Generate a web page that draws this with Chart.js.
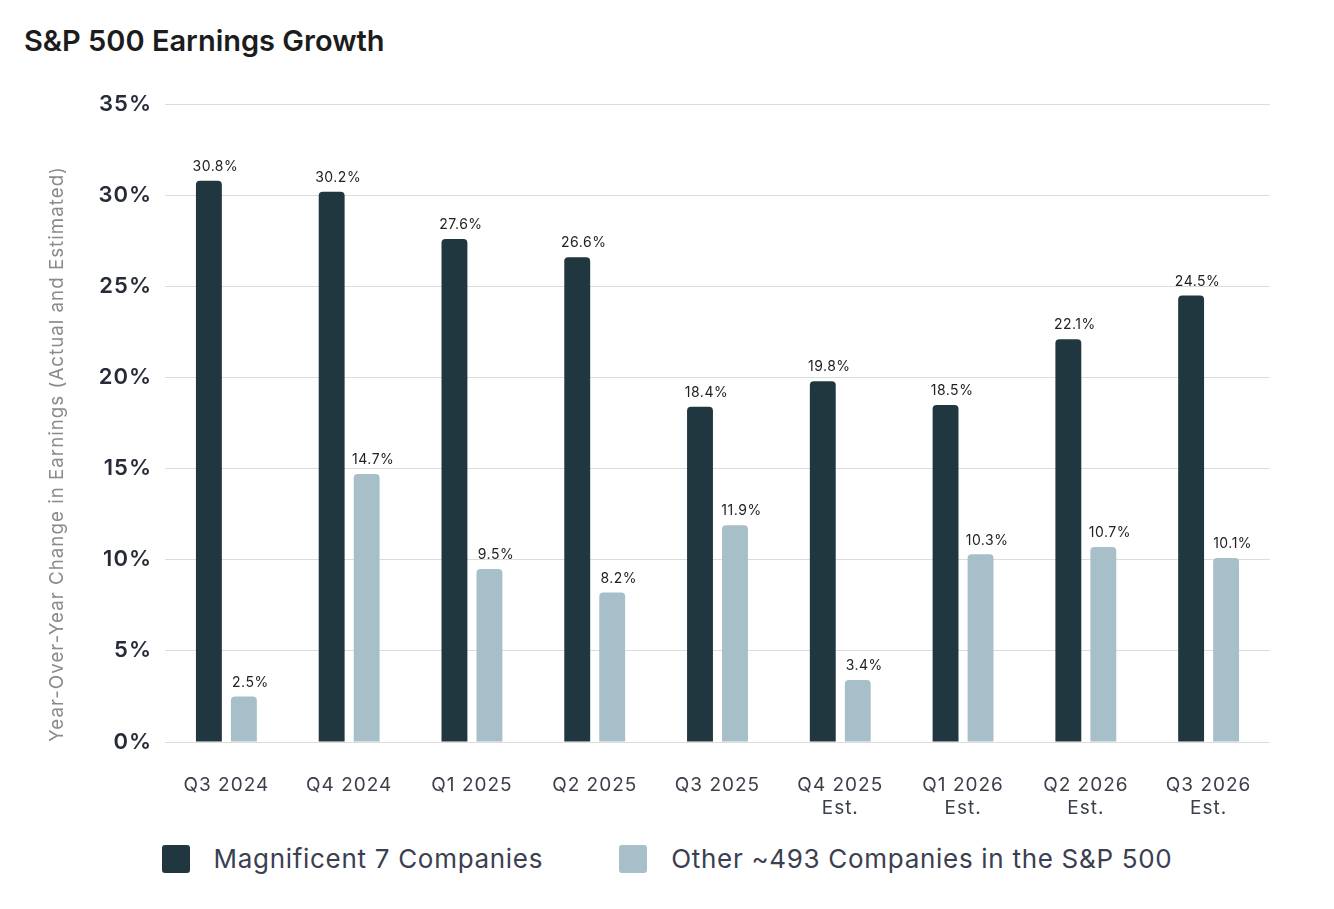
<!DOCTYPE html>
<html lang="en">
<head>
  <meta charset="UTF-8">
  <title>S&amp;P 500 Earnings Growth</title>
  <script src="https://cdn.jsdelivr.net/npm/chart.js"></script>
  <style>
    body { margin: 0; background: #fff; font-family: Inter, sans-serif; }
    .page { position: relative; width: 1334px; height: 909px; overflow: hidden; }
    .title { position: absolute; left: 24px; top: 23px; font-size: 29px; font-weight: 600; color: #1c1c1c; }
    .chart-box { position: absolute; left: 0; top: 78px; width: 1334px; height: 752px; }
    .legend { position: absolute; left: 0; width: 1334px; top: 843px; display: flex; justify-content: center; }
    .legend-item { display: flex; align-items: center; margin: 0 38px; }
    .legend-box { width: 28px; height: 28px; border-radius: 3px; margin-right: 24px; }
    .legend-text { font-size: 26px; letter-spacing: 0.7px; color: #3a4050; }
  </style>
</head>
<body>
<div class="page">
  <div class="title">S&amp;P 500 Earnings Growth</div>
  <div class="chart-box">
    <canvas id="barChart" width="1334" height="752"></canvas>
  </div>
  <div class="legend" id="legend"></div>
</div>

<script>
  const quarters = [
    'Q3 2024', 'Q4 2024', 'Q1 2025', 'Q2 2025', 'Q3 2025',
    ['Q4 2025', 'Est.'], ['Q1 2026', 'Est.'], ['Q2 2026', 'Est.'], ['Q3 2026', 'Est.']
  ];
  const seriesNames = ['Magnificent 7 Companies', 'Other ~493 Companies in the S&P 500'];
  const seriesColors = ['#213740', '#a7bfc9'];
  const mag7 = [30.8, 30.2, 27.6, 26.6, 18.4, 19.8, 18.5, 22.1, 24.5];
  const others = [2.5, 14.7, 9.5, 8.2, 11.9, 3.4, 10.3, 10.7, 10.1];
  const yTicks = [0, 5, 10, 15, 20, 25, 30, 35];

  // a bit of tracking for the axis text
  const tracking = {
    id: 'tracking',
    beforeDraw(chart) { chart.ctx.letterSpacing = '1px'; },
    afterDraw(chart) { chart.ctx.letterSpacing = '0px'; }
  };

  // value labels above each bar (sit slightly right of the bar centre in the original)
  const valueLabels = {
    id: 'valueLabels',
    afterDatasetsDraw(chart) {
      const ctx = chart.ctx;
      ctx.save();
      ctx.letterSpacing = '0.5px';
      ctx.font = '14px Inter';
      ctx.fillStyle = '#222';
      ctx.textAlign = 'center';
      ctx.textBaseline = 'bottom';
      chart.data.datasets.forEach((ds, i) => {
        chart.getDatasetMeta(i).data.forEach((bar, j) => {
          ctx.fillText(ds.data[j].toFixed(1) + '%', bar.x + 6.5, bar.y - 7);
        });
      });
      ctx.restore();
    }
  };

  const ctx = document.getElementById('barChart').getContext('2d');
  new Chart(ctx, {
    type: 'bar',
    data: {
      labels: quarters,
      datasets: [
        { label: seriesNames[0], data: mag7, backgroundColor: seriesColors[0] },
        { label: seriesNames[1], data: others, backgroundColor: seriesColors[1] }
      ]
    },
    options: {
      responsive: false,
      animation: false,
      devicePixelRatio: 1,
      datasets: {
        bar: {
          categoryPercentage: 0.57,
          barPercentage: 0.74,
          borderRadius: { topLeft: 4, topRight: 4 },
          borderSkipped: 'bottom'
        }
      },
      layout: { padding: { left: 46, right: 64, top: 20, bottom: 0 } },
      plugins: {
        legend: { display: false },
        tooltip: { enabled: false }
      },
      scales: {
        x: {
          grid: { display: false, drawTicks: false },
          border: { display: false },
          ticks: {
            color: '#3a3f4a',
            font: { family: 'Inter', size: 19, lineHeight: 1.25 },
            padding: 31,
            maxRotation: 0,
            autoSkip: false
          },
          afterFit(scale) { scale.height = 88; }
        },
        y: {
          min: 0,
          max: 35,
          afterBuildTicks(scale) { scale.ticks = yTicks.map(v => ({ value: v })); },
          grid: { color: '#dcdcdc', lineWidth: 1, drawTicks: false },
          border: { display: false },
          ticks: {
            color: '#262b38',
            font: { family: 'Inter', size: 22, weight: '600' },
            padding: 13,
            callback: v => v + '%'
          },
          title: {
            display: true,
            align: 'start',
            text: 'Year-Over-Year Change in Earnings (Actual and Estimated)',
            color: '#8a8a8a',
            font: { family: 'Inter', size: 18.75, lineHeight: 1.2 },
            padding: 0
          },
          afterFit(scale) { scale.width = 119; }
        }
      }
    },
    plugins: [tracking, valueLabels]
  });

  // legend
  const legend = document.getElementById('legend');
  seriesNames.forEach((name, i) => {
    const item = document.createElement('div');
    item.className = 'legend-item';
    item.innerHTML = '<div class="legend-box" style="background:' + seriesColors[i] + '"></div>' +
      '<div class="legend-text"></div>';
    item.querySelector('.legend-text').textContent = name;
    legend.appendChild(item);
  });
</script>
</body>
</html>
